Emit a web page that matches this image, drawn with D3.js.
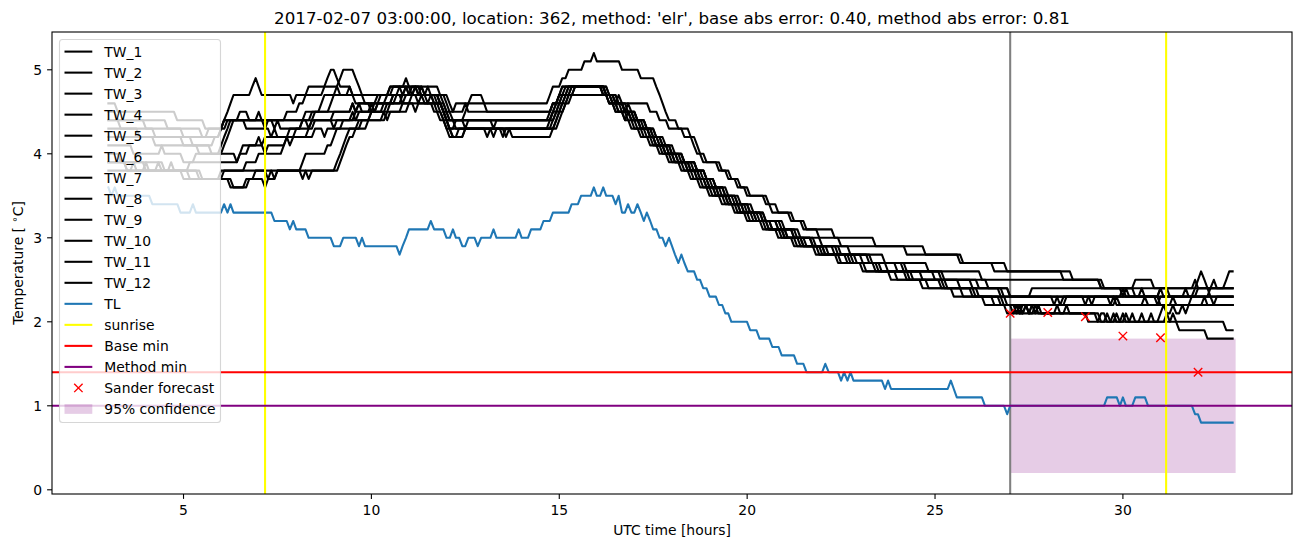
<!DOCTYPE html>
<html><head><meta charset="utf-8">
<script src="https://cdn.jsdelivr.net/npm/d3@7"></script>
<style>
html,body{margin:0;padding:0;background:#fff;}
svg text{font-family:"DejaVu Sans",sans-serif;}
</style></head>
<body><svg id="chart" width="1302" height="547"></svg>
<script>
// ---------- data ----------
const titleText = "2017-02-07 03:00:00, location: 362, method: 'elr', base abs error: 0.40, method abs error: 0.81";
const xTicks = [5, 10, 15, 20, 25, 30];
const yTicks = [0, 1, 2, 3, 4, 5];
const seriesEnd = 32.92;           // last sample (hours)
// each series: [hour where a value starts, value]; value holds until the next change (5-min samples)
const tw1 = [[3.0,4.6],[3.25,4.5],[4.83,4.4],[5.58,4.3],[6.08,4.4],[6.5,4.5],[6.75,4.4],[8.42,4.5],[8.92,4.6],[9.0,4.7],[9.08,4.8],[9.17,4.9],[9.25,5.0],[9.58,4.9],[9.67,4.8],[9.75,4.7],[10.5,4.8],[10.92,4.9],[11.0,4.8],[11.83,4.7],[11.92,4.6],[12.0,4.5],[12.5,4.6],[12.58,4.5],[14.83,4.6],[15.0,4.7],[15.25,4.8],[16.17,4.7],[16.33,4.6],[17.42,4.5],[17.67,4.4],[17.92,4.3],[18.33,4.2],[18.67,4.1],[18.75,4.0],[18.92,3.9],[19.33,3.8],[19.58,3.7],[19.83,3.6],[20.08,3.5],[20.58,3.4],[20.83,3.3],[21.17,3.2],[21.5,3.1],[21.92,3.0],[22.5,2.9],[24.25,2.8],[25.67,2.7],[26.58,2.6],[28.67,2.5],[29.5,2.4],[30.33,2.5],[30.83,2.4],[31.25,2.3],[32.0,2.4]];
const tw2 = [[3.0,4.5],[3.25,4.4],[4.58,4.3],[5.5,4.2],[6.0,4.3],[6.08,4.4],[6.17,4.5],[6.25,4.6],[6.33,4.7],[6.83,4.8],[6.92,4.9],[7.0,4.8],[7.08,4.7],[7.92,4.6],[8.0,4.7],[8.33,4.8],[8.83,4.9],[8.92,5.0],[9.08,4.9],[9.17,4.8],[9.5,4.7],[10.58,4.8],[11.42,4.7],[11.5,4.8],[11.58,4.7],[12.08,4.6],[12.17,4.5],[12.25,4.6],[14.75,4.7],[14.83,4.8],[15.08,4.9],[15.25,5.0],[15.67,5.1],[15.92,5.2],[16.0,5.1],[16.67,5.0],[17.17,4.9],[17.58,4.8],[17.67,4.7],[17.75,4.6],[17.83,4.5],[17.92,4.4],[18.17,4.3],[18.5,4.2],[18.58,4.1],[18.67,4.0],[18.83,3.9],[19.25,3.8],[19.5,3.7],[19.75,3.6],[20.0,3.5],[20.5,3.4],[20.67,3.3],[21.25,3.2],[21.58,3.1],[22.33,3.0],[23.42,2.9],[24.75,2.8],[25.75,2.7],[26.92,2.6],[28.42,2.5],[29.42,2.4],[31.92,2.5],[32.0,2.4]];
const tw3 = [[3.0,4.4],[3.33,4.3],[4.25,4.2],[5.0,4.1],[5.83,4.2],[6.0,4.3],[6.08,4.4],[7.0,4.5],[7.08,4.4],[8.5,4.5],[8.67,4.6],[8.75,4.7],[9.42,4.8],[9.5,4.7],[9.83,4.6],[10.25,4.7],[10.75,4.8],[11.08,4.7],[11.17,4.8],[11.25,4.7],[11.75,4.6],[11.83,4.5],[11.92,4.4],[12.5,4.3],[12.58,4.4],[14.83,4.5],[14.92,4.6],[15.08,4.7],[15.17,4.8],[16.25,4.7],[16.5,4.6],[16.75,4.5],[17.08,4.4],[17.33,4.3],[17.58,4.2],[17.75,4.1],[18.0,4.0],[18.33,3.9],[18.67,3.8],[18.92,3.7],[19.17,3.6],[19.42,3.5],[19.83,3.4],[20.17,3.3],[20.5,3.2],[21.0,3.1],[21.42,3.0],[22.0,2.9],[22.75,2.8],[23.67,2.7],[24.83,2.6],[26.25,2.5],[29.42,2.4],[30.0,2.3],[30.08,2.4],[30.17,2.3],[30.5,2.4],[30.58,2.3],[31.0,2.4],[31.08,2.3],[32.33,2.4],[32.42,2.5],[32.5,2.4],[32.75,2.5],[32.83,2.6]];
const tw4 = [[3.0,4.3],[3.83,4.2],[5.25,4.1],[5.75,4.0],[6.0,4.1],[6.08,4.2],[6.17,4.3],[6.25,4.4],[7.42,4.3],[7.5,4.4],[7.58,4.3],[8.17,4.4],[8.25,4.5],[9.5,4.6],[9.58,4.5],[9.67,4.6],[10.67,4.7],[10.92,4.8],[11.0,4.7],[11.33,4.8],[11.42,4.7],[12.0,4.6],[12.08,4.5],[12.17,4.4],[13.25,4.3],[13.33,4.4],[14.75,4.5],[14.83,4.6],[15.0,4.7],[15.25,4.8],[16.17,4.7],[16.5,4.6],[16.58,4.7],[16.67,4.6],[16.75,4.5],[17.0,4.4],[17.25,4.3],[17.5,4.2],[17.67,4.1],[17.92,4.0],[18.25,3.9],[18.58,3.8],[18.83,3.7],[19.08,3.6],[19.33,3.5],[19.67,3.4],[20.0,3.3],[20.42,3.2],[20.83,3.1],[21.25,3.0],[21.75,2.9],[22.42,2.8],[23.25,2.7],[24.17,2.6],[25.25,2.5],[26.42,2.4],[27.0,2.3],[27.58,2.4],[30.33,2.3],[31.0,2.4]];
const tw5 = [[3.0,4.2],[4.25,4.1],[5.42,4.0],[6.08,4.1],[6.17,4.2],[6.25,4.3],[6.33,4.4],[6.67,4.3],[7.33,4.2],[7.42,4.3],[7.5,4.2],[8.0,4.3],[8.5,4.4],[9.0,4.5],[9.5,4.6],[9.58,4.5],[9.67,4.6],[9.75,4.5],[10.33,4.6],[10.42,4.7],[10.83,4.6],[11.08,4.7],[11.67,4.6],[11.75,4.5],[11.92,4.4],[12.0,4.3],[12.25,4.4],[14.92,4.5],[15.0,4.6],[15.17,4.7],[15.42,4.8],[16.25,4.7],[16.42,4.6],[16.58,4.5],[16.92,4.4],[17.17,4.3],[17.42,4.2],[17.58,4.1],[17.83,4.0],[18.17,3.9],[18.5,3.8],[18.75,3.7],[19.0,3.6],[19.25,3.5],[19.58,3.4],[19.92,3.3],[20.25,3.2],[20.67,3.1],[21.08,3.0],[21.58,2.9],[22.17,2.8],[22.92,2.7],[23.75,2.6],[24.67,2.5],[25.67,2.4],[26.75,2.3],[28.17,2.2],[28.25,2.3],[29.0,2.2],[29.08,2.3],[31.0,2.2],[32.5,2.3]];
const tw6 = [[3.0,4.1],[3.67,4.0],[4.42,4.1],[4.5,4.0],[5.0,3.9],[5.33,4.0],[6.42,3.9],[6.5,4.0],[6.75,4.1],[7.17,4.0],[7.25,4.1],[7.75,4.2],[7.83,4.1],[7.92,4.2],[8.5,4.3],[8.75,4.2],[8.83,4.3],[9.25,4.4],[9.5,4.5],[9.58,4.4],[10.0,4.5],[10.17,4.6],[10.83,4.7],[11.25,4.6],[11.33,4.7],[11.42,4.6],[11.67,4.5],[11.83,4.4],[12.0,4.3],[12.08,4.2],[12.33,4.3],[13.5,4.2],[13.58,4.3],[14.92,4.4],[15.0,4.5],[15.08,4.6],[15.17,4.7],[15.33,4.8],[16.17,4.7],[16.42,4.6],[16.58,4.5],[16.83,4.4],[17.08,4.3],[17.33,4.2],[17.58,4.1],[17.83,4.0],[18.08,3.9],[18.42,3.8],[18.67,3.7],[18.92,3.6],[19.17,3.5],[19.5,3.4],[19.83,3.3],[20.17,3.2],[20.58,3.1],[21.0,3.0],[21.42,2.9],[22.0,2.8],[22.67,2.7],[23.42,2.6],[24.25,2.5],[25.17,2.4],[26.0,2.3],[26.92,2.2],[27.17,2.1],[27.25,2.2],[27.33,2.1],[27.42,2.2],[27.5,2.1],[27.58,2.2],[27.67,2.1],[27.75,2.2],[27.83,2.1],[29.42,2.0],[29.58,2.1],[29.67,2.0],[29.83,2.1],[29.92,2.0],[30.08,2.1],[30.17,2.0],[31.5,1.9],[32.25,1.8]];
const tw7 = [[3.0,3.9],[3.5,3.8],[3.67,3.9],[3.75,3.8],[4.0,3.9],[4.08,3.8],[4.33,3.9],[4.42,3.8],[4.67,3.9],[4.75,3.8],[5.17,3.9],[6.5,4.0],[6.58,4.1],[7.0,4.2],[7.08,4.1],[7.17,4.2],[8.33,4.3],[8.42,4.4],[9.0,4.3],[9.08,4.4],[9.58,4.5],[10.0,4.6],[10.08,4.5],[10.17,4.6],[10.58,4.7],[11.5,4.6],[11.58,4.7],[11.67,4.6],[11.92,4.5],[12.0,4.4],[12.08,4.3],[13.25,4.2],[13.33,4.3],[13.58,4.2],[13.67,4.3],[15.0,4.4],[15.08,4.5],[15.17,4.6],[15.25,4.7],[16.33,4.6],[16.5,4.5],[16.75,4.4],[16.83,4.5],[16.92,4.4],[17.0,4.3],[17.25,4.2],[17.5,4.1],[17.75,4.0],[18.0,3.9],[18.33,3.8],[18.58,3.7],[18.83,3.6],[19.08,3.5],[19.42,3.4],[19.75,3.3],[20.08,3.2],[20.5,3.1],[20.92,3.0],[21.33,2.9],[21.92,2.8],[22.5,2.7],[23.17,2.6],[24.0,2.5],[24.83,2.4],[25.75,2.3],[26.58,2.2],[27.08,2.1],[28.5,2.2],[28.58,2.1],[29.08,2.0],[31.17,2.1],[31.25,2.0],[31.33,2.1],[31.42,2.0],[32.75,1.9]];
const tw8 = [[3.0,3.9],[3.5,3.8],[5.5,3.7],[6.08,3.8],[6.67,3.9],[7.0,4.0],[7.67,4.1],[7.75,4.2],[7.83,4.3],[8.17,4.4],[8.33,4.3],[8.42,4.4],[9.67,4.5],[10.08,4.6],[10.17,4.7],[10.5,4.8],[10.83,4.7],[10.92,4.8],[11.0,4.7],[11.08,4.8],[11.33,4.7],[11.83,4.6],[11.92,4.5],[12.08,4.4],[14.83,4.5],[14.92,4.6],[15.0,4.7],[15.08,4.8],[16.25,4.7],[16.5,4.6],[16.75,4.5],[16.83,4.6],[16.92,4.5],[17.0,4.4],[17.17,4.3],[17.42,4.2],[17.67,4.1],[17.92,4.0],[18.17,3.9],[18.5,3.8],[18.75,3.7],[19.0,3.6],[19.25,3.5],[19.58,3.4],[19.92,3.3],[20.33,3.2],[20.67,3.1],[21.08,3.0],[21.5,2.9],[22.08,2.8],[22.83,2.7],[23.58,2.6],[24.42,2.5],[25.33,2.4],[26.17,2.3],[26.83,2.2],[29.83,2.3],[29.92,2.2]];
const tw9 = [[3.0,3.8],[5.42,3.7],[6.0,3.8],[7.25,3.7],[7.33,3.8],[8.17,3.7],[8.25,3.8],[9.17,3.9],[9.25,4.0],[9.33,4.1],[9.42,4.2],[9.58,4.3],[9.67,4.4],[10.0,4.5],[10.83,4.6],[10.92,4.7],[11.83,4.6],[11.92,4.5],[12.0,4.4],[12.08,4.3],[12.17,4.2],[12.5,4.3],[13.08,4.2],[13.17,4.3],[14.75,4.4],[14.83,4.5],[15.0,4.6],[15.08,4.7],[15.33,4.8],[16.33,4.7],[16.58,4.6],[16.83,4.5],[17.08,4.4],[17.33,4.3],[17.58,4.2],[17.83,4.1],[18.08,4.0],[18.33,3.9],[18.67,3.8],[18.92,3.7],[19.17,3.6],[19.5,3.5],[19.75,3.4],[20.08,3.3],[20.5,3.2],[20.92,3.1],[21.33,3.0],[21.83,2.9],[22.5,2.8],[23.33,2.7],[24.25,2.6],[25.17,2.5],[26.0,2.4],[26.83,2.3],[28.33,2.2],[28.42,2.3],[29.17,2.2],[29.25,2.3],[30.92,2.2],[31.0,2.3]];
const tw10 = [[3.0,4.0],[3.33,3.9],[4.5,3.8],[5.17,3.7],[6.25,3.6],[6.75,3.7],[6.92,3.8],[7.42,3.7],[7.5,3.8],[8.17,3.9],[8.25,4.0],[8.83,4.1],[9.0,4.2],[9.08,4.3],[9.75,4.4],[10.33,4.5],[10.42,4.4],[10.5,4.5],[11.0,4.6],[11.92,4.5],[12.0,4.4],[12.08,4.3],[12.17,4.2],[12.5,4.3],[13.75,4.2],[14.83,4.3],[14.92,4.4],[15.0,4.5],[15.17,4.6],[15.33,4.7],[16.33,4.6],[16.5,4.5],[16.75,4.4],[16.92,4.3],[17.17,4.2],[17.42,4.1],[17.67,4.0],[17.92,3.9],[18.25,3.8],[18.5,3.7],[18.75,3.6],[19.0,3.5],[19.33,3.4],[19.67,3.3],[20.0,3.2],[20.42,3.1],[20.83,3.0],[21.25,2.9],[21.83,2.8],[22.42,2.7],[23.08,2.6],[23.83,2.5],[24.67,2.4],[25.5,2.3],[26.33,2.2],[26.92,2.1],[27.17,2.2],[27.25,2.1],[27.42,2.2],[27.5,2.1],[27.67,2.2],[27.75,2.1],[28.25,2.2],[28.33,2.1],[29.33,2.0],[29.42,2.1],[29.58,2.0],[29.75,2.1],[29.83,2.0],[30.0,2.1],[30.08,2.0],[30.25,2.1],[30.33,2.0],[30.5,2.1],[30.58,2.0],[30.75,2.1],[30.83,2.0],[31.0,2.1],[31.08,2.2],[31.17,2.1],[31.33,2.2],[31.42,2.1],[31.58,2.2],[31.67,2.1],[31.75,2.2],[31.83,2.3],[31.92,2.4],[32.0,2.5],[32.08,2.6],[32.17,2.5],[32.25,2.4],[32.33,2.3],[32.42,2.2]];
const tw11 = [[3.0,3.9],[4.0,3.8],[5.0,3.7],[6.33,3.6],[6.67,3.7],[7.17,3.6],[7.25,3.7],[7.5,3.8],[8.33,3.7],[8.42,3.8],[9.08,3.9],[9.17,4.0],[9.25,4.1],[9.33,4.2],[9.42,4.3],[9.92,4.4],[10.42,4.5],[10.5,4.6],[11.17,4.5],[11.25,4.6],[11.92,4.5],[12.0,4.4],[12.25,4.3],[14.83,4.4],[14.92,4.5],[15.08,4.6],[15.25,4.7],[15.42,4.8],[16.25,4.7],[16.42,4.6],[16.67,4.5],[16.92,4.4],[17.17,4.3],[17.42,4.2],[17.58,4.1],[17.83,4.0],[18.08,3.9],[18.42,3.8],[18.67,3.7],[18.92,3.6],[19.17,3.5],[19.5,3.4],[19.83,3.3],[20.25,3.2],[20.58,3.1],[21.0,3.0],[21.5,2.9],[22.08,2.8],[22.75,2.7],[23.5,2.6],[24.33,2.5],[25.25,2.4],[26.08,2.3],[26.75,2.2],[27.25,2.1],[27.33,2.2],[27.5,2.1],[27.58,2.2],[28.5,2.3],[29.67,2.2],[29.75,2.3],[29.83,2.2],[30.58,2.3],[30.67,2.2],[31.33,2.3],[31.42,2.2],[32.17,2.3],[32.25,2.2]];
const tw12 = [[3.0,4.4],[4.0,4.3],[5.0,4.2],[5.67,4.3],[6.17,4.4],[7.17,4.3],[7.25,4.4],[7.75,4.5],[8.08,4.6],[8.25,4.7],[8.75,4.8],[9.17,4.7],[9.58,4.6],[10.0,4.5],[10.42,4.6],[10.58,4.7],[11.17,4.8],[11.25,4.7],[11.83,4.6],[12.0,4.5],[12.08,4.4],[12.5,4.5],[12.58,4.6],[12.67,4.7],[13.0,4.6],[13.08,4.5],[14.83,4.6],[15.0,4.7],[15.08,4.8],[16.33,4.7],[16.58,4.6],[16.75,4.5],[17.08,4.4],[17.33,4.3],[17.5,4.2],[17.75,4.1],[18.0,4.0],[18.33,3.9],[18.67,3.8],[18.92,3.7],[19.17,3.6],[19.42,3.5],[19.75,3.4],[20.08,3.3],[20.42,3.2],[20.83,3.1],[21.25,3.0],[21.75,2.9],[22.33,2.8],[23.08,2.7],[24.0,2.6],[25.0,2.5],[26.17,2.4],[27.0,2.3],[30.0,2.4],[30.08,2.3],[31.67,2.4],[31.75,2.3]];
const twSeries = [tw1, tw2, tw3, tw4, tw5, tw6, tw7, tw8, tw9, tw10, tw11, tw12];
const twNames = ["TW_1","TW_2","TW_3","TW_4","TW_5","TW_6","TW_7","TW_8","TW_9","TW_10","TW_11","TW_12"];
const tl = [[3.0,3.6],[3.08,3.5],[3.17,3.6],[3.25,3.5],[4.17,3.4],[4.92,3.3],[5.25,3.4],[5.33,3.3],[6.08,3.4],[6.17,3.3],[6.25,3.4],[6.33,3.3],[7.42,3.2],[7.83,3.1],[7.92,3.2],[8.0,3.1],[8.33,3.0],[9.0,2.9],[9.25,3.0],[9.67,2.9],[9.75,3.0],[9.83,2.9],[10.75,2.8],[10.83,2.9],[10.92,3.0],[11.0,3.1],[11.58,3.2],[11.67,3.1],[12.0,3.0],[12.17,3.1],[12.25,3.0],[12.42,2.9],[12.58,3.0],[12.83,2.9],[12.92,3.0],[13.25,3.1],[13.33,3.0],[13.92,3.1],[14.0,3.0],[14.25,3.1],[14.58,3.2],[14.83,3.3],[15.33,3.4],[15.58,3.5],[15.92,3.6],[16.0,3.5],[16.17,3.6],[16.25,3.5],[16.5,3.4],[16.58,3.5],[16.67,3.3],[16.83,3.4],[16.92,3.3],[17.08,3.4],[17.17,3.3],[17.25,3.2],[17.33,3.3],[17.42,3.2],[17.5,3.1],[17.67,3.0],[17.83,2.9],[17.92,3.0],[18.0,2.9],[18.08,2.8],[18.17,2.7],[18.25,2.8],[18.33,2.7],[18.42,2.6],[18.67,2.5],[18.83,2.4],[19.0,2.3],[19.25,2.2],[19.42,2.1],[19.58,2.0],[20.08,1.9],[20.33,1.8],[20.67,1.7],[20.92,1.6],[21.33,1.5],[21.58,1.4],[22.08,1.5],[22.17,1.4],[22.5,1.3],[22.58,1.4],[22.67,1.3],[22.75,1.4],[22.83,1.3],[23.67,1.2],[23.75,1.3],[23.83,1.2],[25.42,1.3],[25.5,1.2],[25.58,1.1],[26.33,1.0],[26.92,0.9],[27.0,1.0],[29.58,1.1],[29.92,1.0],[30.0,1.1],[30.08,1.0],[30.33,1.1],[30.67,1.0],[31.92,0.9],[32.08,0.8]];
const sunriseHours = [7.17, 31.15];
const forecastTime = 27;
const baseMin = 1.4;
const methodMin = 1.0;
const forecastHours = [27, 28, 29, 30, 31, 32];
const forecastValues = [2.10, 2.11, 2.06, 1.83, 1.81, 1.40];
const confHours = [27, 33];
const confLow = 0.2, confHigh = 1.8;
const legendLabels = ["TW_1","TW_2","TW_3","TW_4","TW_5","TW_6","TW_7","TW_8","TW_9","TW_10","TW_11","TW_12","TL","sunrise","Base min","Method min","Sander forecast","95% confidence"];

// ---------- layout ----------
const svg = d3.select("#chart");
const L = 52, R = 1292, T = 32, B = 494;
const x = d3.scaleLinear().domain([1.5, 34.5]).range([L, R]);
const y = d3.scaleLinear().domain([-0.05, 5.45]).range([B, T]);
const LW = 2.08;

svg.append("rect").attr("width",1302).attr("height",547).attr("fill","#fff");
const defs = svg.append("defs");
defs.append("clipPath").attr("id","clip").append("rect").attr("x",L).attr("y",T).attr("width",R-L).attr("height",B-T);
const plot = svg.append("g").attr("clip-path","url(#clip)");

function holdsToPoints(h){
  const pts = [];
  for (let k=0;k<h.length;k++){
    pts.push([h[k][0], h[k][1]]);
    const end = k < h.length-1 ? h[k+1][0] - 1/12 : seriesEnd;
    if (end > h[k][0] + 0.03) pts.push([end, h[k][1]]);
  }
  return pts;
}
const line = d3.line().x(d=>x(d[0])).y(d=>y(d[1]));

// confidence band (patch, below lines)
plot.append("rect")
  .attr("x", x(confHours[0])).attr("width", x(confHours[1]) - x(confHours[0]))
  .attr("y", y(confHigh)).attr("height", y(confLow) - y(confHigh))
  .attr("fill", "purple").attr("fill-opacity", 0.2);

// forecast time
plot.append("line").attr("x1",x(forecastTime)).attr("x2",x(forecastTime)).attr("y1",T).attr("y2",B)
  .attr("stroke","gray").attr("stroke-width",LW);

twSeries.forEach(s=>{
  plot.append("path").attr("d", line(holdsToPoints(s))).attr("fill","none")
    .attr("stroke","#000").attr("stroke-width",LW).attr("stroke-linejoin","round").attr("stroke-linecap","square");
});
plot.append("path").attr("d", line(holdsToPoints(tl))).attr("fill","none")
  .attr("stroke","#1f77b4").attr("stroke-width",LW).attr("stroke-linejoin","round").attr("stroke-linecap","square");

sunriseHours.forEach(h=>{
  plot.append("line").attr("x1",x(h)).attr("x2",x(h)).attr("y1",T).attr("y2",B)
    .attr("stroke","yellow").attr("stroke-width",LW);
});
plot.append("line").attr("x1",L).attr("x2",R).attr("y1",y(baseMin)).attr("y2",y(baseMin))
  .attr("stroke","red").attr("stroke-width",LW);
plot.append("line").attr("x1",L).attr("x2",R).attr("y1",y(methodMin)).attr("y2",y(methodMin))
  .attr("stroke","purple").attr("stroke-width",LW);

const ms = 4.2;
forecastHours.forEach((h,i)=>{
  const cx = x(h), cy = y(forecastValues[i]);
  plot.append("path").attr("d",`M${cx-ms},${cy-ms}L${cx+ms},${cy+ms}M${cx-ms},${cy+ms}L${cx+ms},${cy-ms}`)
    .attr("stroke","red").attr("stroke-width",1.4).attr("fill","none");
});

// axes frame
svg.append("rect").attr("x",L).attr("y",T).attr("width",R-L).attr("height",B-T)
  .attr("fill","none").attr("stroke","#000").attr("stroke-width",1.1);

const fs = 13.9;
xTicks.forEach(v=>{
  svg.append("line").attr("x1",x(v)).attr("x2",x(v)).attr("y1",B).attr("y2",B+4.9).attr("stroke","#000").attr("stroke-width",1.1);
  svg.append("text").attr("x",x(v)).attr("y",B+9.8+11).attr("text-anchor","middle").attr("font-size",fs).attr("fill","#000").text(v);
});
yTicks.forEach(v=>{
  svg.append("line").attr("x1",L-4.9).attr("x2",L).attr("y1",y(v)).attr("y2",y(v)).attr("stroke","#000").attr("stroke-width",1.1);
  svg.append("text").attr("x",L-9.8).attr("y",y(v)).attr("dy","0.36em").attr("text-anchor","end").attr("font-size",fs).attr("fill","#000").text(v);
});

svg.append("text").attr("x",(L+R)/2).attr("y",535).attr("text-anchor","middle").attr("font-size",fs).attr("fill","#000").text("UTC time [hours]");
const yl = svg.append("text").attr("transform",`translate(23,${(T+B)/2}) rotate(-90)`).attr("text-anchor","middle").attr("font-size",fs).attr("fill","#000");
yl.append("tspan").text("Temperature [ ");
yl.append("tspan").attr("dy",-5).attr("font-size",10).text("\u2218");
yl.append("tspan").attr("dy",5).text("C]");

svg.append("text").attr("x",(L+R)/2).attr("y",24).attr("text-anchor","middle").attr("font-size",16.7).attr("fill","#000").text(titleText);

// legend
const lg = svg.append("g");
lg.append("rect").attr("x",59.5).attr("y",39.5).attr("width",161).attr("height",383).attr("rx",3)
  .attr("fill","#fff").attr("fill-opacity",0.8).attr("stroke","#ccc").attr("stroke-opacity",0.8).attr("stroke-width",1.1);
const legendColors = ["#000","#000","#000","#000","#000","#000","#000","#000","#000","#000","#000","#000","#1f77b4","yellow","red","purple"];
legendLabels.forEach((lab,i)=>{
  const cy = 51.6 + i*21.02;
  if (i < 16){
    lg.append("line").attr("x1",64.5).attr("x2",92.3).attr("y1",cy).attr("y2",cy).attr("stroke",legendColors[i]).attr("stroke-width",LW);
  } else if (i === 16){
    const cx = 78.4;
    lg.append("path").attr("d",`M${cx-ms},${cy-ms}L${cx+ms},${cy+ms}M${cx-ms},${cy+ms}L${cx+ms},${cy-ms}`).attr("stroke","red").attr("stroke-width",1.4);
  } else {
    lg.append("rect").attr("x",64.5).attr("y",cy-4.8).attr("width",27.8).attr("height",9.7).attr("fill","purple").attr("fill-opacity",0.2);
  }
  lg.append("text").attr("x",104.3).attr("y",cy).attr("dy","0.36em").attr("font-size",fs).attr("fill","#000").text(lab);
});
</script></body></html>
